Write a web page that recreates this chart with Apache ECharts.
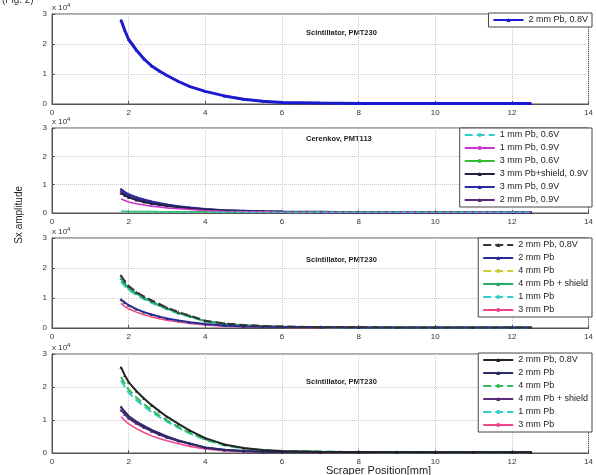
<!DOCTYPE html>
<html>
<head>
<meta charset="utf-8">
<script src="https://cdn.jsdelivr.net/npm/echarts@6/dist/echarts.min.js"></script>
<style>
html,body{margin:0;padding:0;background:#fff;}
#c{width:596px;height:475px;}
</style>
</head>
<body>
<div id="c"></div>
<script>
// ---------- data (values in units of 10^4) ----------
const xPos = [1.8,1.9,2.0,2.2,2.4,2.6,2.8,3.0,3.3,3.6,4.0,4.5,5.0,5.5,6.0,7.0,8.0,9.0,10.0,11.0,12.0,12.5];
const xTicks = [0,2,4,6,8,10,12,14];
const yTicks = [0,1,2,3];
const panelTitles = ["Scintillator, PMT230","Cerenkov, PMT113","Scintillator, PMT230","Scintillator, PMT230"];

// panel 1
const p1_names = ["2 mm Pb, 0.8V"];
const p1_a = [2.8,2.45,2.15,1.8,1.5,1.27,1.1,0.95,0.75,0.58,0.42,0.27,0.16,0.09,0.05,0.03,0.02,0.02,0.02,0.02,0.02,0.02];

// panel 2
const p2_names = ["1 mm Pb, 0.6V","1 mm Pb, 0.9V","3 mm Pb, 0.6V","3 mm Pb+shield, 0.9V","3 mm Pb, 0.9V","2 mm Pb, 0.9V"];
const p2_a = [0.05,0.05,0.05,0.04,0.04,0.04,0.04,0.04,0.03,0.03,0.03,0.03,0.03,0.02,0.02,0.02,0.02,0.02,0.02,0.02,0.02,0.02];
const p2_b = [0.5,0.44,0.39,0.33,0.28,0.24,0.21,0.18,0.15,0.12,0.09,0.06,0.05,0.04,0.03,0.02,0.02,0.02,0.02,0.02,0.02,0.02];
const p2_c = [0.06,0.06,0.05,0.05,0.05,0.05,0.04,0.04,0.04,0.04,0.04,0.03,0.03,0.03,0.03,0.03,0.03,0.03,0.03,0.03,0.03,0.03];
const p2_d = [0.7,0.62,0.55,0.46,0.39,0.33,0.29,0.25,0.2,0.16,0.12,0.09,0.06,0.05,0.04,0.03,0.02,0.02,0.02,0.02,0.02,0.02];
const p2_e = [0.85,0.74,0.66,0.56,0.48,0.41,0.35,0.3,0.24,0.19,0.14,0.1,0.08,0.06,0.05,0.04,0.03,0.03,0.03,0.03,0.02,0.02];
const p2_f = [0.78,0.68,0.6,0.5,0.43,0.37,0.32,0.27,0.22,0.18,0.13,0.09,0.07,0.05,0.04,0.03,0.03,0.02,0.02,0.02,0.02,0.02];

// panel 3
const p3_names = ["2 mm Pb, 0.8V","2 mm Pb","4 mm Pb","4 mm Pb + shield","1 mm Pb","3 mm Pb"];
const p3_a = [1.75,1.56,1.4,1.2,1.05,0.92,0.8,0.68,0.53,0.41,0.24,0.15,0.1,0.07,0.05,0.03,0.03,0.02,0.02,0.02,0.02,0.02];
const p3_b = [0.95,0.85,0.76,0.63,0.53,0.45,0.38,0.32,0.25,0.19,0.13,0.08,0.05,0.04,0.03,0.03,0.02,0.02,0.02,0.02,0.02,0.02];
const p3_c = [0.9,0.8,0.72,0.6,0.5,0.43,0.36,0.3,0.23,0.18,0.12,0.08,0.05,0.04,0.03,0.02,0.02,0.02,0.02,0.02,0.02,0.02];
const p3_d = [1.65,1.48,1.33,1.15,1.0,0.88,0.76,0.65,0.5,0.39,0.23,0.14,0.09,0.06,0.04,0.03,0.02,0.02,0.02,0.02,0.02,0.02];
const p3_e = [1.55,1.4,1.27,1.1,0.96,0.84,0.73,0.62,0.48,0.37,0.22,0.13,0.09,0.06,0.04,0.03,0.02,0.02,0.02,0.02,0.02,0.02];
const p3_f = [0.82,0.72,0.64,0.53,0.44,0.37,0.31,0.26,0.2,0.15,0.1,0.06,0.04,0.03,0.02,0.02,0.02,0.02,0.02,0.02,0.02,0.02];

// panel 4
const p4_names = ["2 mm Pb, 0.8V","2 mm Pb","4 mm Pb","4 mm Pb + shield","1 mm Pb","3 mm Pb"];
const p4_a = [2.6,2.35,2.15,1.88,1.65,1.45,1.27,1.1,0.88,0.68,0.45,0.26,0.15,0.09,0.06,0.04,0.03,0.03,0.02,0.02,0.02,0.02];
const p4_b = [1.4,1.25,1.12,0.95,0.82,0.7,0.6,0.5,0.38,0.29,0.17,0.1,0.06,0.04,0.03,0.03,0.02,0.02,0.02,0.02,0.02,0.02];
const p4_c = [2.3,2.1,1.92,1.68,1.48,1.3,1.14,0.99,0.79,0.61,0.41,0.24,0.14,0.08,0.05,0.04,0.03,0.02,0.02,0.02,0.02,0.02];
const p4_d = [1.3,1.17,1.05,0.9,0.77,0.66,0.56,0.47,0.36,0.27,0.16,0.09,0.06,0.04,0.03,0.02,0.02,0.02,0.02,0.02,0.02,0.02];
const p4_e = [2.2,2.0,1.83,1.6,1.41,1.24,1.09,0.95,0.76,0.59,0.4,0.23,0.14,0.08,0.05,0.04,0.03,0.02,0.02,0.02,0.02,0.02];
const p4_f = [1.1,0.98,0.88,0.74,0.62,0.52,0.44,0.37,0.28,0.2,0.12,0.07,0.04,0.03,0.02,0.02,0.02,0.02,0.02,0.02,0.02,0.02];

// ---------- build ----------
const FONT = "Liberation Sans";
const grids = [
  {top:14, height:90},
  {top:128, height:85},
  {top:238, height:90},
  {top:354, height:99}
];
const pair = arr => arr.map((v,i)=>[xPos[i], v]);
const zw = n => "\u200b".repeat(n);

const panels = [
  {names:p1_names, data:[p1_a], colors:["#1a1ad0"], widths:[3], sym:["triangle"], dash:["solid"]},
  {names:p2_names, data:[p2_a,p2_b,p2_c,p2_d,p2_e,p2_f],
   colors:["#33cccc","#cc33cc","#33bb33","#222244","#2a2a9a","#5a2a7a"],
   widths:[1.2,1.5,1.5,2,2,2], sym:["none","none","none","triangle","triangle","triangle"],
   dash:["dashed","solid","solid","solid","solid","solid"]},
  {names:p3_names, data:[p3_a,p3_b,p3_c,p3_d,p3_e,p3_f],
   colors:["#333333","#2a2a9a","#cccc33","#22aa66","#33cccc","#ee4488"],
   widths:[2,2,1.2,2,2,1.5], sym:["triangle","triangle","none","triangle","none","none"],
   dash:["dashed","solid","dashed","solid","dashed","solid"]},
  {names:p4_names, data:[p4_a,p4_b,p4_c,p4_d,p4_e,p4_f],
   colors:["#222222","#2a2a6a","#33bb55","#5a2a7a","#33cccc","#ee4488"],
   widths:[2,2,2,2,2,1.5], sym:["triangle","triangle","none","triangle","none","none"],
   dash:["solid","solid","dashed","solid","dashed","solid"]}
];

const option = {
  animation:false,
  backgroundColor:"#fff",
  textStyle:{fontFamily:FONT},
  grid: grids.map(g=>({left:52, right:4, top:g.top, height:g.height, show:true,
    borderColor:"#555", borderWidth:1, backgroundColor:"#fff"})),
  xAxis: grids.map((g,i)=>({gridIndex:i, type:"value", min:xTicks[0], max:xTicks[xTicks.length-1], interval:2,
    axisLine:{show:true, onZero:false, lineStyle:{color:"#555"}},
    axisTick:{show:true, inside:true, length:3, lineStyle:{color:"#555"}},
    axisLabel:{fontSize:8, color:"#333", margin:5, fontFamily:FONT},
    splitLine:{show:true, lineStyle:{color:"#c8c8c8", type:"dotted", width:1}}})),
  yAxis: grids.map((g,i)=>({gridIndex:i, type:"value", min:yTicks[0], max:yTicks[yTicks.length-1], interval:1,
    axisLine:{show:true, lineStyle:{color:"#555"}},
    axisTick:{show:true, inside:true, length:3, lineStyle:{color:"#555"}},
    axisLabel:{fontSize:8, color:"#333", margin:5, fontFamily:FONT},
    splitLine:{show:true, lineStyle:{color:"#c8c8c8", type:"dotted", width:1}}})),
  legend: [],
  series: [],
  graphic: []
};

const legendTops = [13, 128, 238, 353];
panels.forEach((p, pi) => {
  const lnames = [];
  p.names.forEach((nm, si) => {
    const name = nm + zw(pi);
    lnames.push(name);
    option.series.push({
      type:"line", name:name, xAxisIndex:pi, yAxisIndex:pi,
      data: pair(p.data[si]),
      symbol: p.sym[si], symbolSize:3, showSymbol: p.sym[si] !== "none",
      lineStyle:{color:p.colors[si], width:p.widths[si], type:p.dash[si]},
      itemStyle:{color:p.colors[si]},
      z: 10 - si
    });
  });
  option.legend.push({
    data: lnames, orient:"vertical", right:4, top:legendTops[pi],
    backgroundColor:"#fff", borderColor:"#444", borderWidth:1, borderRadius:0,
    padding:[2,4,2,4], itemGap:3, itemWidth:30, itemHeight:5,
    textStyle:{fontSize:9, color:"#222", fontFamily:FONT, lineHeight:10},
    formatter: n => n.replace(/\u200b/g,""),
    selectedMode:false
  });
  option.graphic.push({type:"text", left:306, top:grids[pi].top + (pi===3?24:(pi===2?18:(pi===1?7:15))),
    style:{text:panelTitles[pi], font:"bold 7.5px " + FONT, fill:"#222", textAlign:"center"}});
  option.graphic.push({type:"text", left:52, top:grids[pi].top - 12,
    style:{text:"{a|x 10}{b|4}", rich:{a:{fontSize:8, fill:"#333", fontFamily:FONT}, b:{fontSize:6, fill:"#333", fontFamily:FONT, verticalAlign:"top", padding:[0,0,5,0]}}}});
});

option.graphic.push({type:"text", left:326, top:465,
  style:{text:"Scraper Position[mm]", font:"11px " + FONT, fill:"#222", textAlign:"center"}});
option.graphic.push({type:"text", left:14, top:186, rotation:Math.PI/2,
  style:{text:"Sx amplitude", font:"10px " + FONT, fill:"#222", textAlign:"center"}});
option.graphic.push({type:"text", left:2, top:-5,
  style:{text:"(Fig. 2)", font:"10px " + FONT, fill:"#333"}});

const chart = echarts.init(document.getElementById("c"), null, {renderer:"canvas"});
chart.setOption(option);
</script>
</body>
</html>
